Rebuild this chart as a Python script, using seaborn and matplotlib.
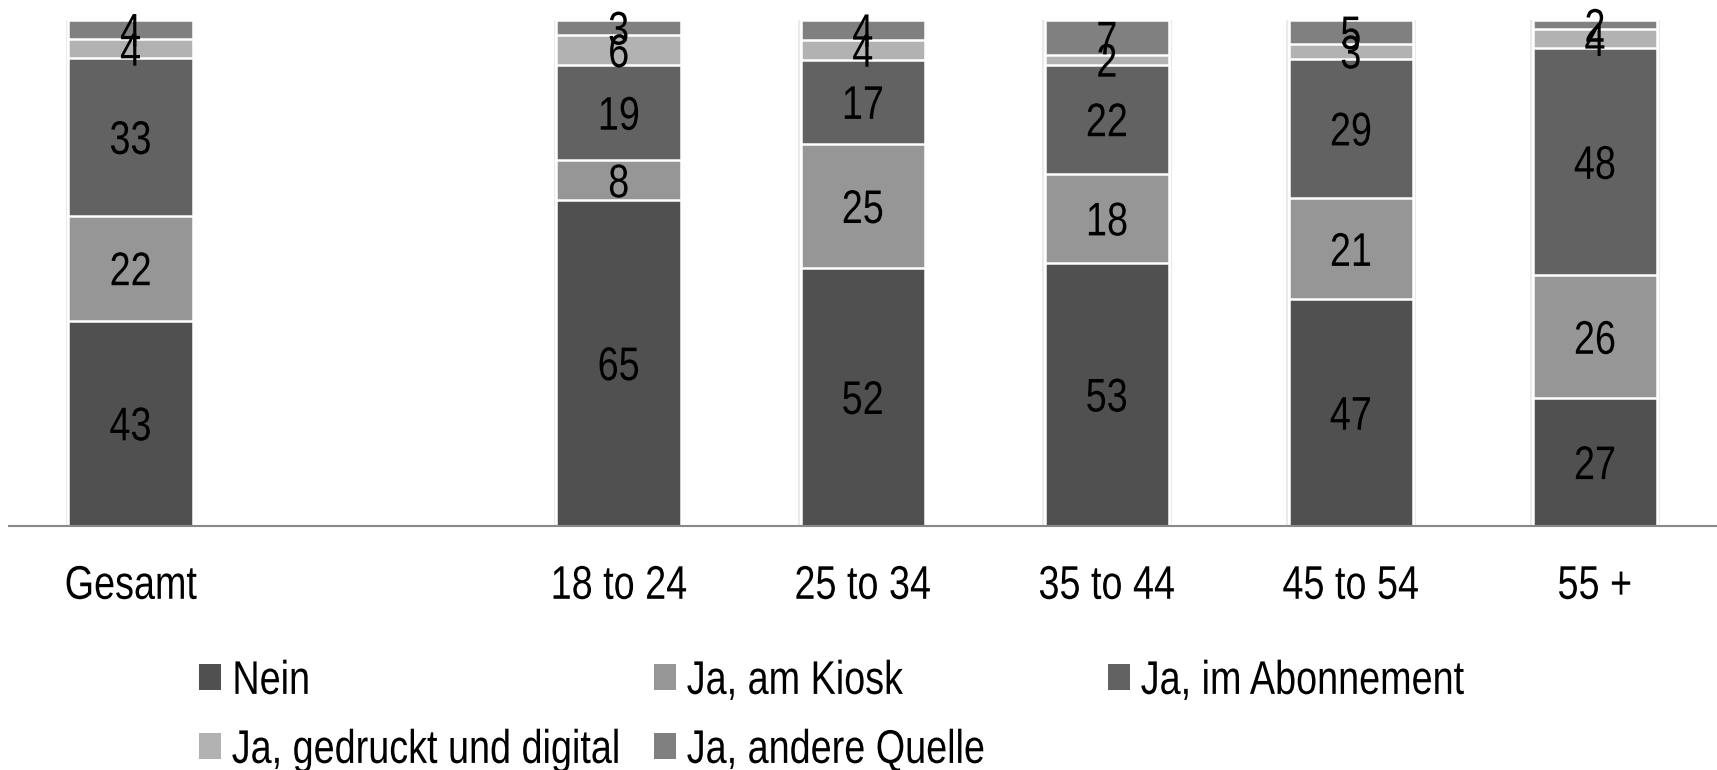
import numpy as np
import pandas as pd
import matplotlib
matplotlib.use("Agg")
import matplotlib.pyplot as plt
import seaborn as sns
from matplotlib.patches import Patch
from matplotlib.patheffects import AbstractPathEffect
from matplotlib.transforms import Affine2D

groups = ["Gesamt", " ", "18 to 24", "25 to 34", "35 to 44", "45 to 54", "55 +"]
series = ["Nein", "Ja, am Kiosk", "Ja, im Abonnement",
          "Ja, gedruckt und digital", "Ja, andere Quelle"]
nein        = [43, np.nan, 65, 52, 53, 47, 27]
kiosk       = [22, np.nan, 8, 25, 18, 21, 26]
abonnement  = [33, np.nan, 19, 17, 22, 29, 48]
gedruckt    = [4, np.nan, 6, 4, 2, 3, 4]
andere      = [4, np.nan, 3, 4, 7, 5, 2]
colors = ["#505050", "#969696", "#626262", "#b2b2b2", "#808080"]

FS = 34


class Condensed(AbstractPathEffect):
    """Squeeze glyphs horizontally to mimic a narrow typeface."""

    def __init__(self, sx=0.8, anchor="center"):
        super().__init__()
        self.sx = sx
        self.anchor = anchor

    def draw_path(self, renderer, gc, tpath, affine, rgbFace=None):
        ext = tpath.get_extents()
        cx = 0.5 * (ext.x0 + ext.x1) if self.anchor == "center" else ext.x0
        squeeze = Affine2D().translate(-cx, 0).scale(self.sx, 1).translate(cx, 0)
        renderer.draw_path(gc, tpath, squeeze + affine, rgbFace)


sns.set_theme(style="white")
plt.rcParams["font.family"] = ["Liberation Sans", "DejaVu Sans"]

values = np.array([nein, kiosk, abonnement, gedruckt, andere], dtype=float)
totals = np.nansum(values, axis=0)
totals[totals == 0] = np.nan
shares = values / totals * 100
tops = np.cumsum(shares, axis=0)

fig = plt.figure(figsize=(17.17, 7.7), dpi=100)
ax = fig.add_axes([0.005, 0.317, 0.995, 0.657])

# faint halo behind each column
halo = pd.DataFrame({"group": groups, "top": np.where(np.isnan(totals), np.nan, 100.0)})
sns.barplot(data=halo, x="group", y="top", order=groups, color="#ebebeb",
            saturation=1, width=0.53, linewidth=0, ax=ax)

# stacked bars: draw cumulative tops from the highest layer down
for i in range(len(series) - 1, -1, -1):
    df = pd.DataFrame({"group": groups, "top": tops[i]})
    sns.barplot(data=df, x="group", y="top", order=groups, color=colors[i],
                saturation=1, width=0.51, edgecolor="white", linewidth=1.8,
                ax=ax)

center_fx = [Condensed(0.8, "center")]

# value labels centred in each segment
for i in range(len(series)):
    for j in range(len(groups)):
        v = values[i, j]
        if np.isnan(v):
            continue
        ctr = tops[i, j] - shares[i, j] / 2
        ax.text(j, ctr, f"{int(v)}", ha="center", va="center_baseline",
                fontsize=FS, color="black", path_effects=center_fx)

ax.set_xlim(-0.5, 6.5)
ax.set_ylim(0, 100)
ax.set_xlabel("")
ax.set_ylabel("")
ax.set_yticks([])
ax.tick_params(axis="x", length=0, pad=28, labelsize=FS, colors="black")
for lbl in ax.get_xticklabels():
    lbl.set_path_effects(center_fx)
for s in ["top", "left", "right"]:
    ax.spines[s].set_visible(False)
ax.spines["bottom"].set_color("#898989")
ax.spines["bottom"].set_linewidth(1.5)

# legend laid out as three columns of equal width
handles = [Patch(facecolor=c, edgecolor="none") for c in colors]
columns = [[0, 3], [1, 4], [2]]
col_x = [0.1159, 0.3809, 0.6453]
for cx, idx in zip(col_x, columns):
    leg = fig.legend([handles[k] for k in idx], [series[k] for k in idx],
                     loc="upper left", bbox_to_anchor=(cx, 0.143), ncol=1,
                     frameon=False, fontsize=FS, handlelength=0.47,
                     handleheight=0.47, handletextpad=0.22, labelspacing=0.53,
                     borderpad=0, borderaxespad=0)
    for t in leg.get_texts():
        t.set_color("black")
        t.set_path_effects([Condensed(0.8, "left")])

fig.savefig("out.png", dpi=100)
